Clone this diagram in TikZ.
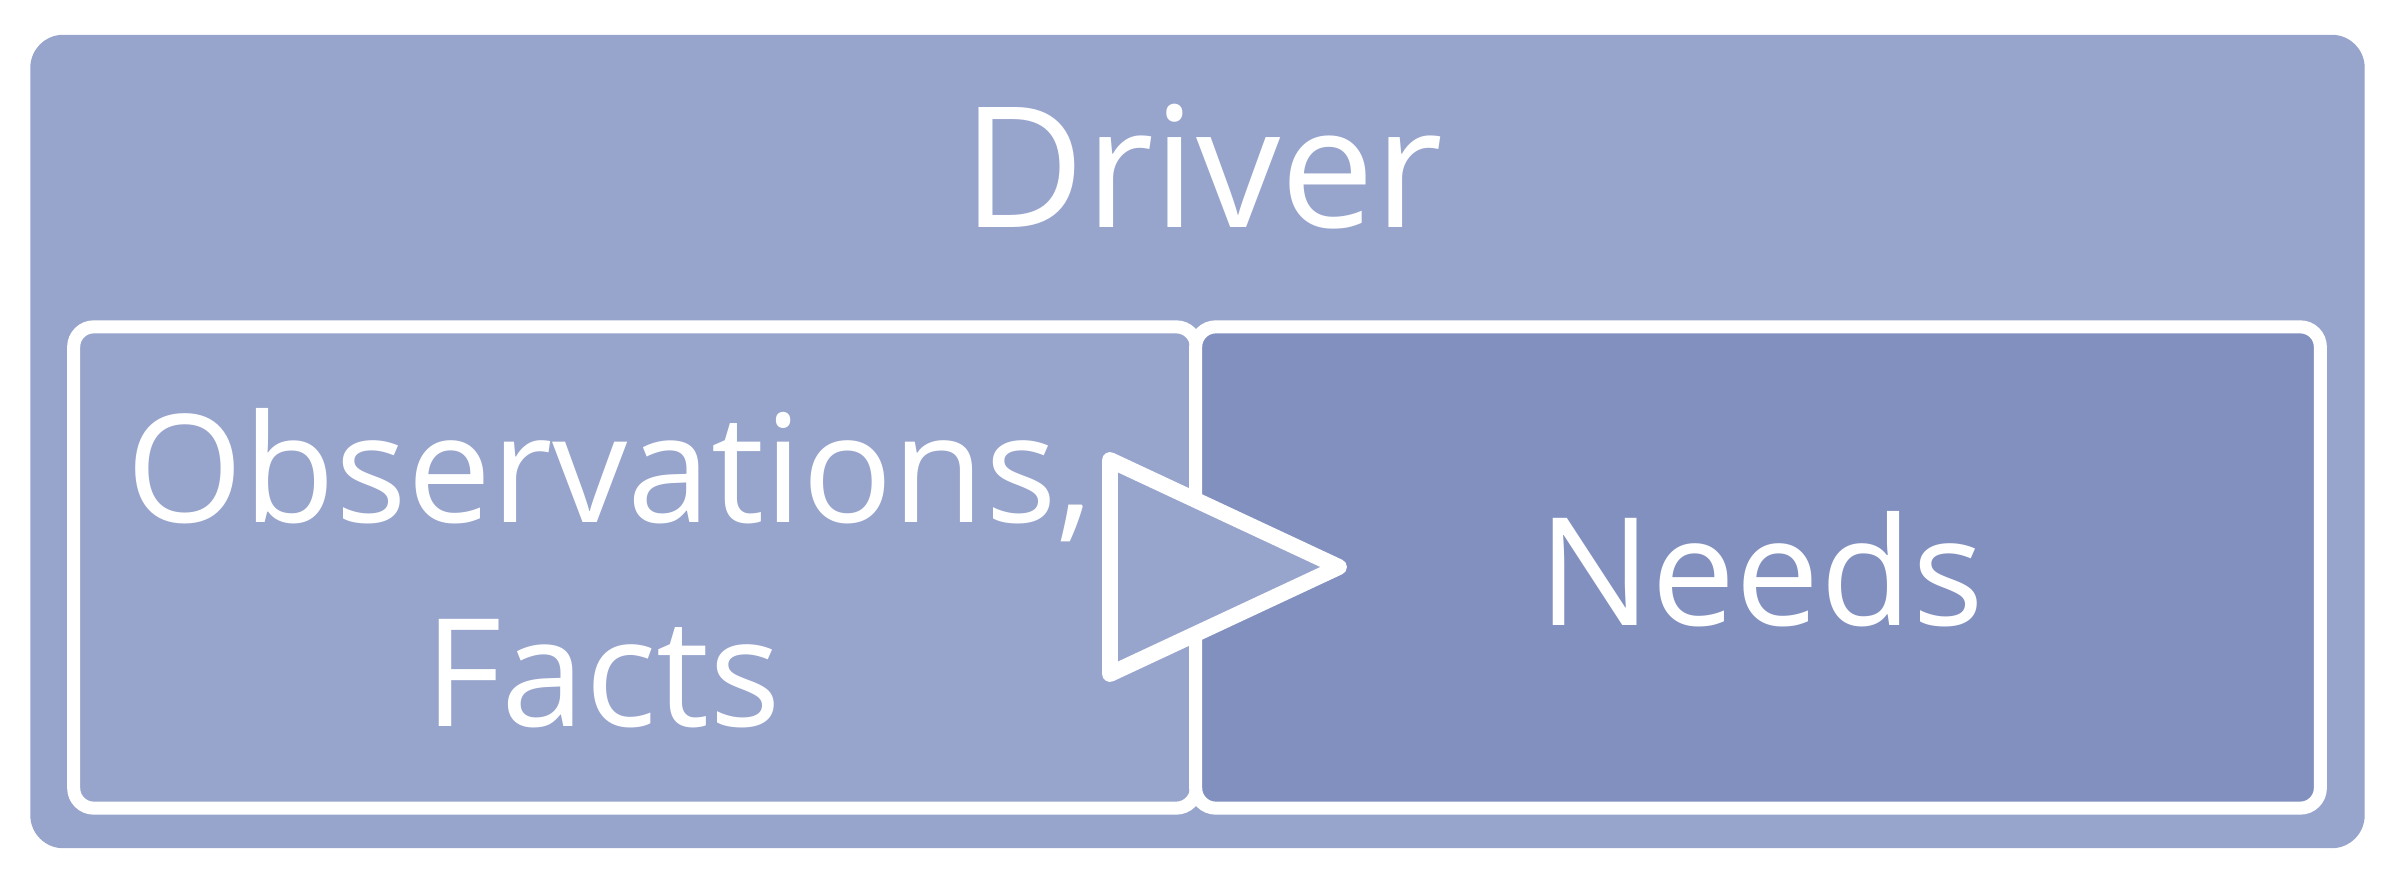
\documentclass[tikz,border=0pt]{standalone}
\usepackage{fontspec}
\setmainfont{Open Sans}
\definecolor{driverblue}{RGB}{151,164,204}
\definecolor{needsblue}{RGB}{130,144,192}
\tikzset{
  panel/.style={draw=white, line width=3.7pt, rounded corners=0.2cm, inner sep=0pt,
    minimum height=4.81cm},
  bigtext/.style={text=white, inner sep=0pt, font=\fontsize{47.8pt}{58pt}\selectfont},
  boxtext/.style={text=white, inner sep=0pt, font=\fontsize{42.7pt}{58pt}\selectfont},
}
\begin{document}
\begin{tikzpicture}[x=0.01cm, y=-0.01cm]
      \useasboundingbox (0,0) rectangle (2400,880);
      \node[fill=driverblue, rounded corners=0.33cm, inner sep=0pt,
        minimum width=23.33cm, minimum height=8.13cm] (driver) at (1197.5,441.5) {};
      \node[panel, fill=driverblue, minimum width=11.22cm] (obs) at (635,567.5) {};
      \node[panel, fill=needsblue, minimum width=11.24cm] (needs) at (1758,567.5) {};
      % arrow head between the two panels
      \draw[draw=white, fill=driverblue, line width=4.5pt, line join=round]
        (1110,460) -- (1339,567) -- (1110,674) -- cycle;
      \node[bigtext, anchor=base] (drivertitle) at (1203,228) {Driver};
      \node[boxtext, anchor=base] (obstext) at (610,523) {Observations,};
      \node[boxtext, anchor=base] (factstext) at (603,727) {Facts};
      \node[boxtext, anchor=base] (needstext) at (1761,626) {Needs};
    \end{tikzpicture}
\end{document}
